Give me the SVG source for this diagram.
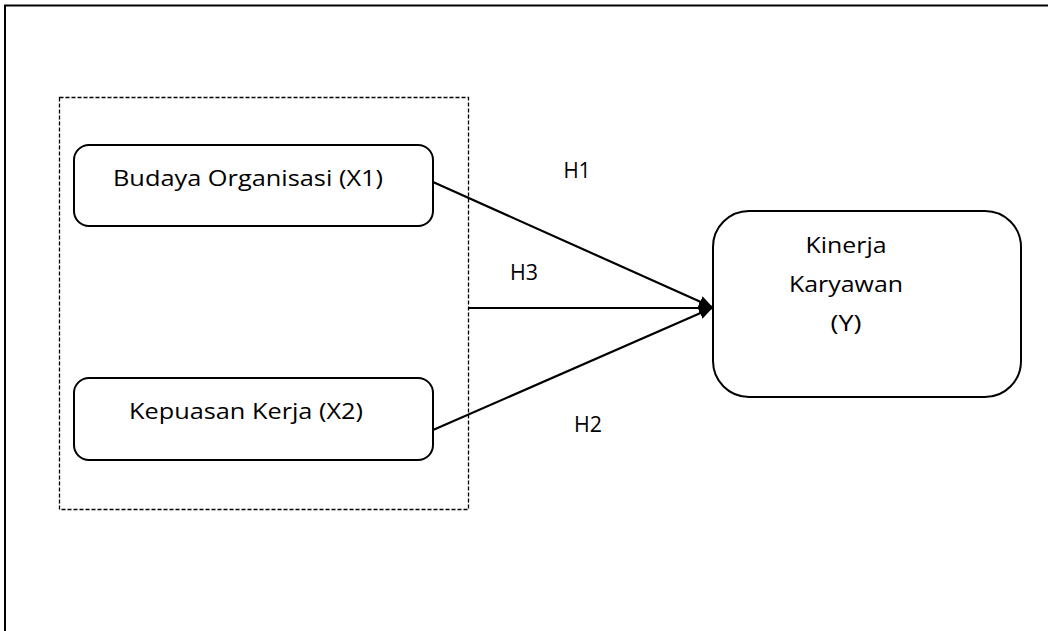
<svg xmlns="http://www.w3.org/2000/svg" width="1048" height="631" viewBox="0 0 1048 631">
<style>
.node{fill:#fff;stroke:#000;stroke-width:2}
.t{font-family:"Open Sans","Liberation Sans",sans-serif;font-size:21px;fill:#000;text-anchor:middle}
.c{stroke:#000;stroke-width:2.2;fill:none;marker-end:url(#ah)}
</style>
<defs>
<marker id="ah" viewBox="0 0 14 12" refX="13" refY="6" markerWidth="14" markerHeight="12" markerUnits="userSpaceOnUse" orient="auto">
<path d="M0,0 L14,6 L0,12 Z" fill="#000"/>
</marker>
</defs>
<rect width="1048" height="631" fill="#fff"/>
<path d="M5,631 V5.5 H1048" fill="none" stroke="#000" stroke-width="2"/>
<g id="group">
<rect x="59.5" y="97.5" width="409" height="412" fill="none" stroke="#000" stroke-width="1.3" stroke-dasharray="4,2"/>
</g>
<g id="x1">
<rect class="node" x="74" y="145" width="359" height="81" rx="15"/>
<text class="t" x="248" y="186" textLength="270" lengthAdjust="spacingAndGlyphs">Budaya Organisasi (X1)</text>
</g>
<g id="x2">
<rect class="node" x="74" y="378" width="359" height="82" rx="15"/>
<text class="t" x="246" y="419" textLength="234" lengthAdjust="spacingAndGlyphs">Kepuasan Kerja (X2)</text>
</g>
<g id="y">
<rect class="node" x="713" y="211" width="308" height="186" rx="36"/>
<text class="t" x="846" y="253" textLength="81" lengthAdjust="spacingAndGlyphs">Kinerja</text>
<text class="t" x="846" y="292" textLength="114" lengthAdjust="spacingAndGlyphs">Karyawan</text>
<text class="t" x="846" y="331" textLength="31" lengthAdjust="spacingAndGlyphs">(Y)</text>
</g>
<g id="connectors">
<line class="c" x1="433" y1="182" x2="712" y2="307"/>
<line class="c" x1="469" y1="308" x2="712" y2="308"/>
<line class="c" x1="433" y1="430" x2="712" y2="308"/>
</g>
<g id="labels">
<text class="t" x="577" y="178" textLength="27" lengthAdjust="spacingAndGlyphs">H1</text>
<text class="t" x="524" y="280" textLength="28" lengthAdjust="spacingAndGlyphs">H3</text>
<text class="t" x="588" y="432" textLength="28" lengthAdjust="spacingAndGlyphs">H2</text>
</g>
</svg>
